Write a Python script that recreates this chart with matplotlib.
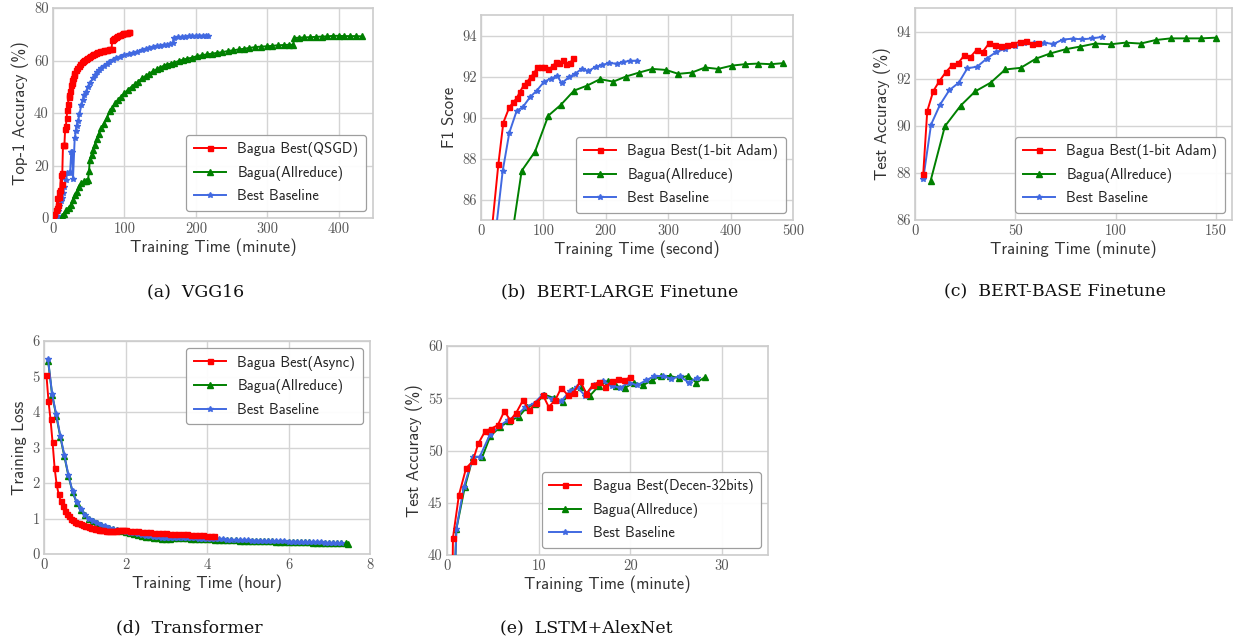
import matplotlib
matplotlib.use('Agg')
import matplotlib.pyplot as plt
from matplotlib.ticker import MultipleLocator
import warnings
warnings.filterwarnings('ignore')

# ---------------- data ----------------
# (a) VGG16  (minute, top-1 %)
vgg_red_x = [0, 2, 4, 5, 6, 7, 8, 9, 10, 11, 12, 13, 14, 15, 16, 17, 18, 19, 20, 21, 22, 23, 24, 25, 26, 27, 28, 29, 30,
             32, 34, 36, 38, 40, 42, 44, 46, 48, 50, 52, 54, 56, 58, 60, 62, 64, 66, 68, 70, 72, 74, 76, 78, 80, 82,
             83, 84, 86, 88, 90, 92, 94, 96, 98, 100, 102, 104, 106, 107]
vgg_red_y = [0.5, 1.5, 3, 4, 7.5, 5, 10, 8, 10.5, 16.5, 13, 17, 28, 28, 28, 34, 35, 38, 41, 43.5, 46, 47, 48.5, 50.5, 51.5,
             52.5, 53.5, 54.5, 55.2, 56.2, 57.2, 58, 58.7, 59.3, 59.8, 60.3, 60.7, 61.1, 61.5, 61.8, 62.1, 62.3, 62.6,
             62.9, 63.2, 63.4, 63.6, 63.7, 63.8, 63.9, 64, 64.1, 64.2, 64.3, 64.5, 67.8, 68.2, 68.6, 69, 69.3, 69.6,
             69.9, 70.1, 70.3, 70.4, 70.5, 70.6, 70.7, 70.7]
vgg_green_x = [9, 12, 15, 18.7, 22, 25, 28, 30.4, 33, 36, 39.7, 43, 46, 49, 50.5, 51.4, 54, 56, 58.4, 61, 64, 67.8, 71, 75,
               79.4, 83, 87, 91, 95, 100, 105, 110, 115, 119, 125, 130, 135, 140, 145, 150, 155, 159, 165, 170, 176, 182,
               188, 195, 201, 208, 215, 222, 230, 237, 245, 252, 260, 268, 275, 283, 291, 299, 307, 315, 323, 331, 336,
               338, 345, 352, 360, 368, 376, 384, 392, 400, 408, 416, 424, 432]
vgg_green_y = [0, 0.8, 1.5, 3.2, 4, 5, 7, 8.9, 10, 12, 13.3, 14, 14.2, 14.6, 18, 22.2, 24, 26, 27.9, 30, 32, 34.3, 36, 38,
               40.6, 42, 43.7, 45, 46.2, 47.5, 48.9, 50, 51, 52, 53.2, 54.2, 55, 55.9, 56.6, 57.3, 58, 58.4, 58.8, 59.2,
               59.8, 60.3, 60.7, 61.1, 61.6, 62, 62.3, 62.6, 62.9, 63.2, 63.6, 63.9, 64.2, 64.5, 64.8, 65.1, 65.3, 65.4,
               65.6, 65.8, 65.9, 66, 66, 68.6, 68.7, 68.8, 68.9, 69, 69.1, 69.2, 69.4, 69.4, 69.3, 69.3, 69.3, 69.2]
vgg_blue_x = [0, 3, 5, 7, 9, 11, 12, 14, 16, 18, 20, 22, 24, 25.5, 27, 28, 30.4, 32, 33, 35, 37, 39.7, 42, 44, 46.7, 49,
              52, 56, 59, 62, 65, 67.8, 71, 75, 79, 84, 88.8, 94, 100, 106, 112, 118, 124, 130, 135, 140, 145, 150,
              155, 159, 164, 168, 170, 175, 180, 185, 190, 195, 200, 205, 210, 214, 217]
vgg_blue_y = [0, 0.3, 0.6, 2.5, 4.5, 6.5, 7.6, 9.5, 12, 14.5, 17, 17.3, 17.5, 25, 25, 15, 30.5, 33, 35, 36.8, 39.5, 43, 45,
              46.7, 48, 50, 51.5, 53.3, 54.5, 55.7, 56.5, 57, 57.8, 58.7, 59.4, 60.2, 61, 61.5, 62, 62.4, 62.9, 63.4,
              63.9, 64.4, 64.8, 65.1, 65.4, 65.6, 65.8, 66, 66.3, 66.7, 68.6, 68.8, 69, 69.1, 69.2, 69.3, 69.4, 69.4,
              69.5, 69.5, 69.4]

# (b) BERT-LARGE finetune  (second, F1)
bl_red_x = [15, 27.8, 35.8, 45.4, 51.8, 57.2, 62.5, 68.9, 74.2, 79.6, 85, 90.3, 95.7, 101, 108, 115, 120, 125.5, 131,
            137, 142.6, 148]
bl_red_y = [83.8, 87.72, 89.75, 90.5, 90.74, 90.94, 91.26, 91.59, 91.75, 91.97, 92.16, 92.45, 92.45, 92.48, 92.35,
            92.5, 92.7, 92.65, 92.81, 92.62, 92.66, 92.88]
bl_green_x = [48, 65.2, 86.5, 107.9, 127.7, 149, 170.4, 190.7, 212, 232.4, 253.2, 274.5, 296.5, 316.2, 337.6, 359, 380,
              401.7, 423, 444.4, 464.3, 484.5]
bl_green_y = [83.9, 87.4, 88.33, 90.09, 90.61, 91.31, 91.56, 91.87, 91.75, 92.0, 92.19, 92.37, 92.32, 92.13, 92.19,
              92.44, 92.37, 92.53, 92.6, 92.63, 92.6, 92.65]
bl_blue_x = [22, 34.8, 45.4, 57.2, 66.8, 78.5, 89.3, 101, 111.7, 122.3, 129.3, 141, 150.6, 161.3, 172, 183.8, 194.4,
             205.6, 217.4, 228, 238.8, 250.5]
bl_blue_y = [84.0, 87.4, 89.26, 90.33, 90.5, 90.99, 91.31, 91.74, 91.9, 92.03, 91.67, 91.97, 92.13, 92.37, 92.27, 92.47,
             92.57, 92.65, 92.63, 92.71, 92.76, 92.77]

# (c) BERT-BASE finetune  (minute, test accuracy %)
bb_red_x = [4.1, 6.1, 9.1, 12.1, 15.4, 18.4, 21.4, 24.6, 27.6, 30.7, 33.7, 36.9, 39.9, 43, 46, 49, 52.3, 55.2, 58.5,
            61.5]
bb_red_y = [87.96, 90.62, 91.47, 91.89, 92.28, 92.56, 92.65, 92.99, 92.92, 93.22, 93.13, 93.5, 93.45, 93.37, 93.43,
            93.47, 93.57, 93.59, 93.49, 93.53]
bb_green_x = [7.8, 14.9, 22.8, 30, 37.7, 45, 52.7, 60.3, 67.4, 75.1, 82.2, 89.7, 97.5, 105, 112.5, 119.9, 127.4, 134.9,
              142.3, 150]
bb_green_y = [87.67, 89.98, 90.86, 91.46, 91.83, 92.39, 92.46, 92.85, 93.07, 93.25, 93.36, 93.49, 93.46, 93.53, 93.49,
              93.64, 93.71, 93.71, 93.71, 93.74]
bb_blue_x = [4.1, 8, 12.5, 17.1, 21.8, 26.1, 31, 35.7, 40.4, 45, 49.8, 54.5, 59.2, 64.3, 68.9, 73.7, 78.6, 83.4, 88.2,
             93]
bb_blue_y = [87.75, 90.05, 90.9, 91.51, 91.83, 92.44, 92.51, 92.85, 93.13, 93.27, 93.39, 93.5, 93.5, 93.53, 93.47,
             93.66, 93.7, 93.67, 93.71, 93.77]

# (d) Transformer  (hour, training loss)
tr_red_x = [0.06, 0.11, 0.16, 0.21, 0.26, 0.31, 0.36, 0.41, 0.46, 0.51, 0.56, 0.61, 0.66, 0.71, 0.76, 0.81, 0.86, 0.91,
            0.96, 1.01, 1.06, 1.11, 1.16, 1.21, 1.26, 1.31, 1.36, 1.41, 1.46, 1.51, 1.56, 1.61, 1.66, 1.71, 1.76, 1.81,
            1.86, 1.91, 1.96, 2.01, 2.1, 2.2, 2.3, 2.4, 2.5, 2.6, 2.7, 2.8, 2.9, 3.0, 3.1, 3.2, 3.3, 3.4, 3.5, 3.6,
            3.7, 3.8, 3.9, 4.0, 4.1, 4.18]
tr_red_y = [5.04, 4.31, 3.79, 3.15, 2.43, 1.96, 1.68, 1.49, 1.35, 1.22, 1.12, 1.06, 1.0, 0.95, 0.91, 0.88, 0.86, 0.84,
            0.82, 0.8, 0.78, 0.76, 0.74, 0.72, 0.71, 0.7, 0.69, 0.68, 0.67, 0.66, 0.66, 0.65, 0.65, 0.66, 0.66, 0.67,
            0.67, 0.67, 0.67, 0.67, 0.66, 0.65, 0.64, 0.63, 0.62, 0.61, 0.6, 0.59, 0.58, 0.58, 0.57, 0.56, 0.56,
            0.55, 0.55, 0.54, 0.54, 0.53, 0.53, 0.52, 0.52, 0.51]
tr_green_x = [0.1, 0.2, 0.3, 0.4, 0.5, 0.6, 0.7, 0.8, 0.9, 1.0, 1.1, 1.2, 1.3, 1.4, 1.5, 1.6, 1.7, 1.8, 1.9, 2.0, 2.1,
              2.2, 2.3, 2.4, 2.5, 2.6, 2.7, 2.8, 2.9, 3.0, 3.1, 3.2, 3.3, 3.4, 3.5, 3.6, 3.7, 3.8, 3.9, 4.0, 4.1, 4.2,
              4.3, 4.4, 4.5, 4.6, 4.7, 4.8, 4.9, 5.0, 5.1, 5.2, 5.3, 5.4, 5.5, 5.6, 5.7, 5.8, 5.9, 6.0, 6.1, 6.2,
              6.3, 6.4, 6.5, 6.6, 6.7, 6.8, 6.9, 7.0, 7.1, 7.2, 7.3, 7.4, 7.47]
tr_green_y = [5.45, 4.48, 3.9, 3.3, 2.75, 2.2, 1.75, 1.45, 1.25, 1.1, 0.99, 0.92, 0.86, 0.81, 0.77, 0.73, 0.7, 0.67,
              0.64, 0.61, 0.58, 0.56, 0.53, 0.51, 0.49, 0.47, 0.45, 0.44, 0.43, 0.43, 0.43, 0.44, 0.44, 0.44, 0.44,
              0.43, 0.43, 0.42, 0.42, 0.41, 0.41, 0.4, 0.4, 0.4, 0.39, 0.39, 0.39, 0.38, 0.38, 0.38, 0.37, 0.37,
              0.37, 0.36, 0.36, 0.36, 0.35, 0.35, 0.35, 0.34, 0.34, 0.34, 0.33, 0.33, 0.33, 0.32, 0.32, 0.32, 0.31,
              0.31, 0.31, 0.3, 0.3, 0.3, 0.29]
tr_blue_x = [0.1, 0.2, 0.3, 0.4, 0.5, 0.6, 0.7, 0.8, 0.9, 1.0, 1.1, 1.2, 1.3, 1.4, 1.5, 1.6, 1.7, 1.8, 1.9, 2.0, 2.1,
             2.2, 2.3, 2.4, 2.5, 2.6, 2.7, 2.8, 2.9, 3.0, 3.1, 3.2, 3.3, 3.4, 3.5, 3.6, 3.7, 3.8, 3.9, 4.0, 4.1, 4.2,
             4.3, 4.4, 4.5, 4.6, 4.7, 4.8, 4.9, 5.0, 5.1, 5.2, 5.3, 5.4, 5.5, 5.6, 5.7, 5.8, 5.9, 6.0, 6.1, 6.2, 6.3,
             6.4, 6.5, 6.6, 6.7, 6.8, 6.9, 7.0, 7.1, 7.2, 7.3]
tr_blue_y = [5.48, 4.5, 3.93, 3.33, 2.78, 2.22, 1.77, 1.47, 1.27, 1.11, 1.0, 0.93, 0.87, 0.82, 0.78, 0.74, 0.71, 0.68,
             0.65, 0.62, 0.6, 0.58, 0.56, 0.54, 0.52, 0.5, 0.48, 0.47, 0.46, 0.46, 0.46, 0.46, 0.46, 0.45, 0.45, 0.44,
             0.44, 0.43, 0.43, 0.42, 0.42, 0.41, 0.41, 0.41, 0.4, 0.4, 0.4, 0.39, 0.39, 0.39, 0.38, 0.38, 0.38, 0.37,
             0.37, 0.37, 0.36, 0.36, 0.36, 0.35, 0.35, 0.35, 0.34, 0.34, 0.34, 0.33, 0.33, 0.33, 0.32, 0.32, 0.32,
             0.31, 0.31]

# (e) LSTM+AlexNet  (minute, test accuracy %)
la_red_x = [0.6, 0.65, 1.3, 2.07, 2.8, 3.42, 4.18, 4.84, 5.53, 6.25, 6.9, 7.56, 8.29, 8.98, 9.7, 10.47, 11.09, 11.8,
            12.47, 13.16, 13.8, 14.55, 15.2, 15.93, 16.6, 17.27, 18, 18.65, 19.35, 20]
la_red_y = [38.0, 41.66, 45.73, 48.28, 48.98, 50.67, 51.88, 52.1, 52.42, 53.76, 52.9, 53.63, 54.81, 53.85, 54.59, 55.29,
            54.17, 54.81, 56.02, 55.29, 55.54, 56.62, 55.45, 56.3, 56.56, 56.08, 56.62, 56.82, 56.72, 57.04]
la_green_x = [0.85, 1.02, 1.93, 2.84, 3.85, 4.73, 5.82, 6.73, 7.82, 8.73, 9.64, 10.62, 11.64, 12.62, 13.64, 14.62,
              15.56, 16.55, 17.53, 18.47, 19.45, 20.36, 21.35, 22.36, 23.35, 24.29, 25.27, 26.25, 27.2, 28.18]
la_green_y = [38.0, 42.48, 46.46, 49.39, 49.39, 51.4, 52.26, 52.8, 53.22, 54.17, 54.43, 55.35, 55.03, 54.65, 55.76,
              56.08, 55.22, 56.18, 56.62, 56.15, 56.02, 56.5, 56.24, 56.72, 57.13, 57.13, 56.94, 57.13, 56.5, 57.04]
la_blue_x = [0.85, 1.02, 1.82, 2.84, 3.56, 4.65, 5.75, 6.62, 7.64, 8.55, 9.45, 10.44, 11.45, 12.44, 13.38, 14.18, 15.09,
             16, 17.02, 18, 18.91, 19.82, 20.73, 21.71, 22.62, 23.53, 24.44, 25.38, 26.36, 27.27]
la_blue_y = [38.0, 42.48, 46.46, 49.39, 49.39, 51.46, 52.36, 52.9, 53.38, 54.17, 54.49, 55.35, 54.9, 54.71, 55.67, 56.08,
             55.22, 56.24, 56.62, 56.18, 56.02, 56.5, 56.24, 56.72, 57.13, 57.13, 56.88, 57.1, 56.5, 56.97]

captions = ["(a)  VGG16", "(b)  BERT-LARGE Finetune", "(c)  BERT-BASE Finetune", "(d)  Transformer",
            "(e)  LSTM+AlexNet"]

# ---------------- styling ----------------
W, H = 1233, 643
fig = plt.figure(figsize=(W / 100, H / 100), dpi=100)
fig.patch.set_facecolor('white')

RED, GREEN, BLUE = '#ff0000', '#008000', '#4169e1'
TICK_FONT = 'cmr10'
LABEL_FONT = 'cmss10'
CAP_FONT = 'DejaVu Serif'


def px_axes(l, t, r, b):
    return fig.add_axes([l / W, 1 - b / H, (r - l) / W, (b - t) / H])


def style(ax, xlim, ylim, xstep, ystep, xlabel, ylabel, yticks_start=None):
    ax.set_xlim(*xlim)
    ax.set_ylim(*ylim)
    ax.xaxis.set_major_locator(MultipleLocator(xstep))
    ax.yaxis.set_major_locator(MultipleLocator(ystep))
    ax.grid(True, color='#d4d4d4', lw=1.0)
    ax.set_axisbelow(True)
    for s in ax.spines.values():
        s.set_color('#cccccc')
        s.set_linewidth(1.2)
    ax.tick_params(length=0, pad=3, labelsize=10.5, labelcolor='#555555')
    for lab in ax.get_xticklabels() + ax.get_yticklabels():
        lab.set_fontfamily(TICK_FONT)
    ax.set_xlabel(xlabel, fontfamily=LABEL_FONT, fontsize=12, color='#333333', labelpad=2)
    ax.set_ylabel(ylabel, fontfamily=LABEL_FONT, fontsize=12, color='#333333', labelpad=4)


def plot3(ax, rx, ry, gx, gy, bx, by, labels, loc):
    ax.plot(rx, ry, color=RED, marker='s', ms=3.6, lw=1.4, label=labels[0], zorder=4)
    ax.plot(gx, gy, color=GREEN, marker='^', ms=3.8, lw=1.4, label=labels[1], zorder=3)
    ax.plot(bx, by, color=BLUE, marker='*', ms=4.2, lw=1.4, label=labels[2], zorder=3)
    leg = ax.legend(loc=loc, prop={'family': LABEL_FONT, 'size': 10.5}, frameon=True, fancybox=True,
                    framealpha=0.95, edgecolor='#999999', borderpad=0.5, labelspacing=0.6, handlelength=2.2)
    leg.get_frame().set_linewidth(0.9)
    for t in leg.get_texts():
        t.set_color('#222222')


# (a)
ax = px_axes(53, 8, 373, 218)
plot3(ax, vgg_red_x, vgg_red_y, vgg_green_x, vgg_green_y, vgg_blue_x, vgg_blue_y,
      ['Bagua Best(QSGD)', 'Bagua(Allreduce)', 'Best Baseline'], 'lower right')
style(ax, (0, 448), (0, 80), 100, 20, 'Training Time (minute)', 'Top-1 Accuracy (%)')

# (b)
ax = px_axes(481, 15, 793, 220)
plot3(ax, bl_red_x, bl_red_y, bl_green_x, bl_green_y, bl_blue_x, bl_blue_y,
      ['Bagua Best(1-bit Adam)', 'Bagua(Allreduce)', 'Best Baseline'], 'lower right')
style(ax, (0, 500), (85, 95), 100, 2, 'Training Time (second)', 'F1 Score')

# (c)
ax = px_axes(915, 8, 1232, 220)
plot3(ax, bb_red_x, bb_red_y, bb_green_x, bb_green_y, bb_blue_x, bb_blue_y,
      ['Bagua Best(1-bit Adam)', 'Bagua(Allreduce)', 'Best Baseline'], 'lower right')
style(ax, (0, 158), (86, 95), 50, 2, 'Training Time (minute)', 'Test Accuracy (%)')

# (d)
ax = px_axes(44, 341, 370, 554)
plot3(ax, tr_red_x, tr_red_y, tr_green_x, tr_green_y, tr_blue_x, tr_blue_y,
      ['Bagua Best(Async)', 'Bagua(Allreduce)', 'Best Baseline'], 'upper right')
style(ax, (0, 8), (0, 6), 2, 1, 'Training Time (hour)', 'Training Loss')

# (e)
ax = px_axes(447, 346, 768, 555)
plot3(ax, la_red_x, la_red_y, la_green_x, la_green_y, la_blue_x, la_blue_y,
      ['Bagua Best(Decen-32bits)', 'Bagua(Allreduce)', 'Best Baseline'], 'lower right')
style(ax, (0, 35), (40, 60), 10, 5, 'Training Time (minute)', 'Test Accuracy (%)')

# captions
cap_pos = [(196, 292), (620, 292), (1055, 292), (189, 628), (586, 628)]
for (cx, cy), txt in zip(cap_pos, captions):
    fig.text(cx / W, 1 - cy / H, txt, ha='center', va='center', fontfamily=CAP_FONT, fontsize=12.5,
             color='#111111')

fig.savefig('out.png', dpi=100, facecolor='white')
